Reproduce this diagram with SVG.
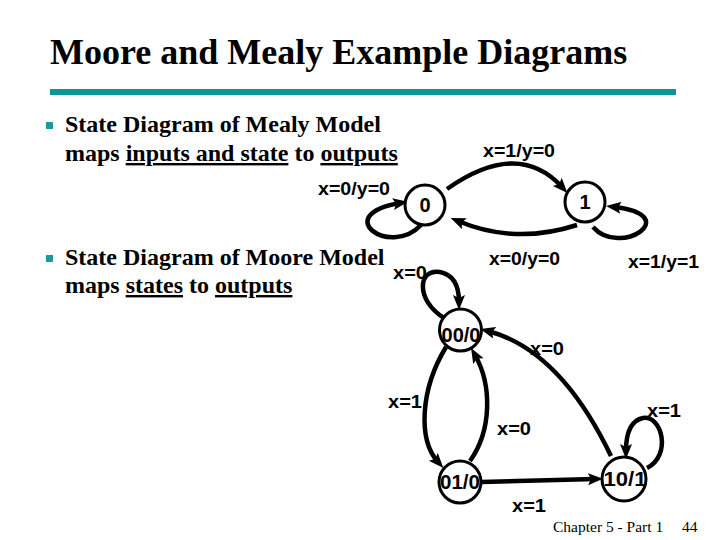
<svg xmlns="http://www.w3.org/2000/svg" width="720" height="540" viewBox="0 0 720 540">
<defs>
<marker id="ah" markerUnits="userSpaceOnUse" markerWidth="16" markerHeight="13" refX="7" refY="6" orient="auto">
<path d="M0,0 L15,6 L0,12 L3,6 z" fill="#000"/>
</marker>
</defs>
<style>
.title{font-family:"Liberation Serif","Times New Roman",serif;font-weight:bold;font-size:36px;fill:#000}
.bul{font-family:"Liberation Serif","Times New Roman",serif;font-weight:bold;font-size:24px;fill:#000}
.lbl{font-family:"Liberation Sans",Arial,sans-serif;font-weight:bold;font-size:19px;fill:#000}
.st{font-family:"Liberation Sans",Arial,sans-serif;font-weight:bold;font-size:20px;fill:#000;text-anchor:middle}
.foot{font-family:"Liberation Serif","Times New Roman",serif;font-size:15.5px;fill:#000}
.node circle{fill:#fff;stroke:#000;stroke-width:3}
.edge{fill:none;stroke:#000;stroke-width:4.5;marker-end:url(#ah)}
.sq{fill:#1a9a9a}
</style>
<rect width="720" height="540" fill="#fff"/>
<text class="title" x="50" y="64">Moore and Mealy Example Diagrams</text>
<rect x="50" y="89" width="626" height="6" fill="#0a9696"/>
<rect class="sq" x="46" y="122" width="7" height="7"/>
<text class="bul" x="65" y="132">State Diagram of Mealy Model</text>
<text class="bul" x="65" y="161">maps <tspan text-decoration="underline">inputs and state</tspan> to <tspan text-decoration="underline">outputs</tspan></text>
<rect class="sq" x="46" y="255" width="7" height="7"/>
<text class="bul" x="65" y="265">State Diagram of Moore Model</text>
<text class="bul" x="65" y="293">maps <tspan text-decoration="underline">states</tspan> to <tspan text-decoration="underline">outputs</tspan></text>

<g id="connectors">
<path class="edge" d="M447,189 Q518,139 562,187"/>
<path class="edge" d="M577,225 Q515,245 458,221"/>
<path class="edge" d="M421,225 C390,258 330,215 400,203"/>
<path class="edge" d="M593,227 C620,258 685,215 614,207"/>
<path class="edge" d="M444,318 C415,300 418,268 440,272 C455,275 459,288 459,302"/>
<path class="edge" d="M446,347 C420,390 418,440 438,462"/>
<path class="edge" d="M470,461 C492,430 492,385 475,355"/>
<path class="edge" d="M611,456 Q560,350 488,331"/>
<path class="edge" d="M481,482 L595,479"/>
<path class="edge" d="M647,468 C672,455 662,415 643,418 C628,421 626,438 626,451"/>
</g>

<g id="mealy-0" class="node"><circle cx="425" cy="205" r="20"/><text class="st" x="425" y="212">0</text></g>
<g id="mealy-1" class="node"><circle cx="585" cy="202" r="20"/><text class="st" x="585" y="209">1</text></g>
<g id="moore-00" class="node"><circle cx="460.5" cy="330" r="21"/><text class="st" x="461" y="342" textLength="39" lengthAdjust="spacingAndGlyphs">00/0</text></g>
<g id="moore-01" class="node"><circle cx="460" cy="482" r="21"/><text class="st" x="460" y="489" textLength="40" lengthAdjust="spacingAndGlyphs">01/0</text></g>
<g id="moore-10" class="node"><circle cx="624" cy="479" r="22"/><text class="st" x="625" y="486" textLength="43" lengthAdjust="spacingAndGlyphs">10/1</text></g>

<g id="labels">
<text class="lbl" x="483" y="157" textLength="72" lengthAdjust="spacingAndGlyphs">x=1/y=0</text>
<text class="lbl" x="318" y="195" textLength="72" lengthAdjust="spacingAndGlyphs">x=0/y=0</text>
<text class="lbl" x="489" y="265" textLength="71" lengthAdjust="spacingAndGlyphs">x=0/y=0</text>
<text class="lbl" x="628" y="268" textLength="71" lengthAdjust="spacingAndGlyphs">x=1/y=1</text>
<text class="lbl" x="393" y="279" textLength="34" lengthAdjust="spacingAndGlyphs">x=0</text>
<text class="lbl" x="530" y="355" textLength="34" lengthAdjust="spacingAndGlyphs">x=0</text>
<text class="lbl" x="388" y="408" textLength="34" lengthAdjust="spacingAndGlyphs">x=1</text>
<text class="lbl" x="497" y="435" textLength="34" lengthAdjust="spacingAndGlyphs">x=0</text>
<text class="lbl" x="647" y="417" textLength="34" lengthAdjust="spacingAndGlyphs">x=1</text>
<text class="lbl" x="512" y="512" textLength="34" lengthAdjust="spacingAndGlyphs">x=1</text>
</g>
<text class="foot" x="553" y="532">Chapter 5 - Part 1</text>
<text class="foot" x="682" y="532">44</text>
</svg>
